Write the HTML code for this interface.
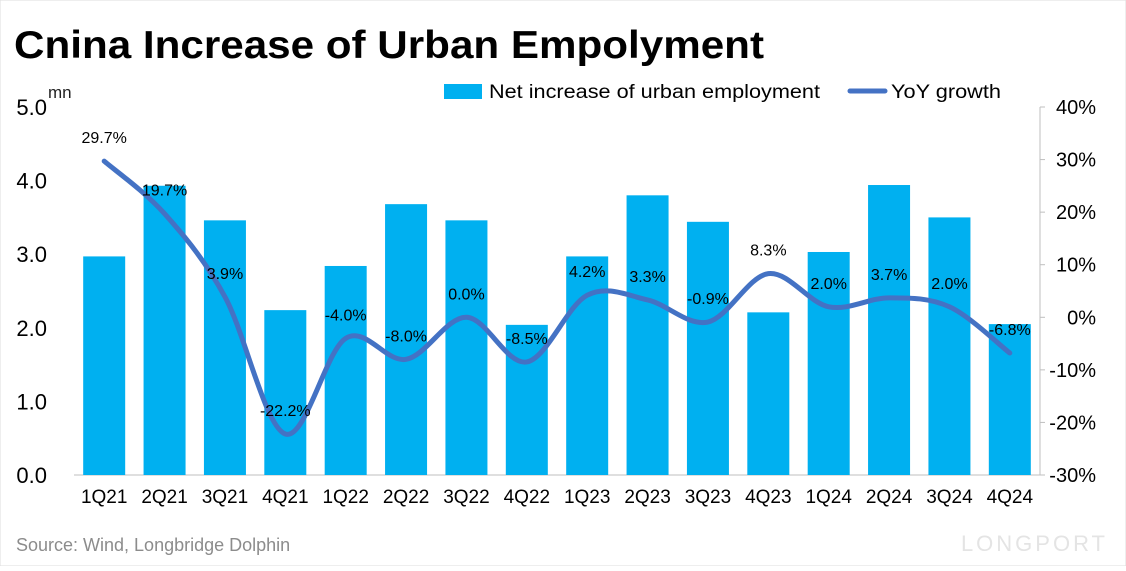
<!DOCTYPE html>
<html><head><meta charset="utf-8"><style>
body{margin:0;background:#fff;}
svg text{font-family:"Liberation Sans","Noto Sans CJK SC",sans-serif;}
</style></head><body>
<svg id="chart" width="1126" height="566">
<rect x="0" y="0" width="1126" height="566" fill="#fff" stroke="#ddd"/>
<text x="14" y="58" font-size="39" font-weight="bold" fill="#000" textLength="750" lengthAdjust="spacingAndGlyphs">Cnina Increase of Urban Empolyment</text>
<text x="48" y="98" font-size="17" fill="#222">mn</text>
<g>
<rect x="444" y="84" width="38" height="15" fill="#00b0f0"/>
<text x="489" y="98" font-size="19" fill="#000" textLength="331" lengthAdjust="spacingAndGlyphs">Net increase of urban employment</text>
<line x1="850" y1="91" x2="885" y2="91" stroke="#4472c4" stroke-width="5" stroke-linecap="round"/>
<text x="891" y="98" font-size="19" fill="#000" textLength="110" lengthAdjust="spacingAndGlyphs">YoY growth</text>
</g>
<text x="16" y="551" font-size="18" fill="#8c8c8c">Source: Wind, Longbridge Dolphin</text>
<text x="1108" y="551" font-size="22" fill="#e4e4e4" text-anchor="end" letter-spacing="3">LONGPORT</text>
<g id="plot"></g>
</svg>
<script>
const categories=["1Q21","2Q21","3Q21","4Q21","1Q22","2Q22","3Q22","4Q22","1Q23","2Q23","3Q23","4Q23","1Q24","2Q24","3Q24","4Q24"];
const employment=[2.97,3.93,3.46,2.24,2.84,3.68,3.46,2.04,2.97,3.80,3.44,2.21,3.03,3.94,3.50,2.05];
const yoy=[29.7,19.7,3.9,-22.2,-4.0,-8.0,0.0,-8.5,4.2,3.3,-0.9,8.3,2.0,3.7,2.0,-6.8];
const leftTicks=[0,1,2,3,4,5];
const rightTicks=[-30,-20,-10,0,10,20,30,40];
const NS="http://www.w3.org/2000/svg";
const g=document.getElementById('plot');
const x0=74,x1=1040,yB=475,yT=107;
const band=(x1-x0)/categories.length;
const xc=i=>x0+band*(i+0.5);
const yL=v=>yB-(v/5)*(yB-yT);
const yR=v=>yB-((v+30)/70)*(yB-yT);
function mk(t,a){const e=document.createElementNS(NS,t);for(const k in a)e.setAttribute(k,a[k]);g.appendChild(e);return e;}
let ax=mk('line',{x1:x1,y1:yT,x2:x1,y2:yB,stroke:'#bfbfbf'});


let bx=mk('line',{x1:x0,y1:yB,x2:x1,y2:yB,stroke:'#bfbfbf'});


leftTicks.forEach(v=>{const t=mk('text',{x:47,y:yL(v)+8,'font-size':22,'text-anchor':'end',fill:'#000'});t.textContent=v.toFixed(1);

});
rightTicks.forEach(v=>{const t=mk('text',{x:1096,y:yR(v)+7,'font-size':20,'text-anchor':'end',fill:'#000'});t.textContent=v+'%';


mk('line',{x1:x1,y1:yR(v),x2:x1+5,y2:yR(v),stroke:'#bfbfbf'});});
employment.forEach((v,i)=>{const r=mk('rect',{x:xc(i)-21,y:yL(v),width:42,height:yB-yL(v),fill:'#00b0f0'});

});
categories.forEach((c,i)=>{const t=mk('text',{x:xc(i),y:503,'font-size':19,'text-anchor':'middle',fill:'#000'});t.textContent=c;

});
const pts=yoy.map((v,i)=>[xc(i),yR(v)]);
let d='M'+pts[0][0]+','+pts[0][1];
for(let i=0;i<pts.length-1;i++){const p0=pts[Math.max(0,i-1)],p1=pts[i],p2=pts[i+1],p3=pts[Math.min(pts.length-1,i+2)];const s=6;
d+=` C${p1[0]+(p2[0]-p0[0])/s},${p1[1]+(p2[1]-p0[1])/s} ${p2[0]-(p3[0]-p1[0])/s},${p2[1]-(p3[1]-p1[1])/s} ${p2[0]},${p2[1]}`;}
const ln=mk('path',{d:d,fill:'none',stroke:'#4472c4','stroke-width':5,'stroke-linecap':'round'});


yoy.forEach((v,i)=>{const t=mk('text',{x:xc(i),y:yR(v)-18,'font-size':16,'text-anchor':'middle',fill:'#000'});t.textContent=v.toFixed(1)+'%';

});
</script>
</body></html>
